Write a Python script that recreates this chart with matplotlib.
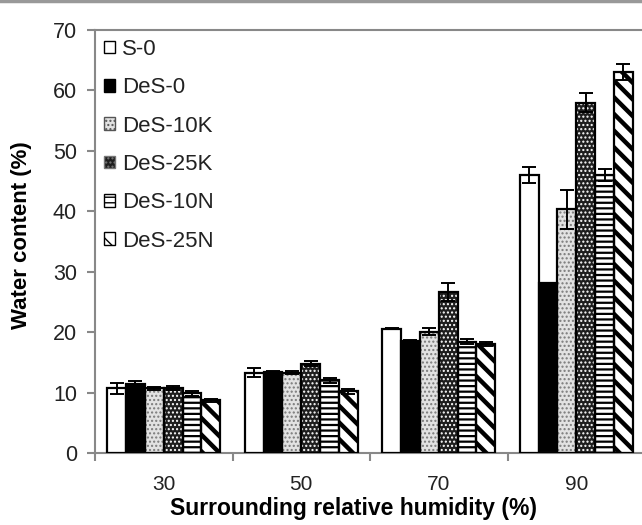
import matplotlib
matplotlib.use("Agg")
import matplotlib.pyplot as plt
from matplotlib.lines import Line2D
import numpy as np

categories = ["30", "50", "70", "90"]
series = ["S-0", "DeS-0", "DeS-10K", "DeS-25K", "DeS-10N", "DeS-25N"]
s0 = [10.7, 13.3, 20.6, 46.0]
des0 = [11.5, 13.4, 18.6, 28.1]
des10k = [10.7, 13.3, 20.1, 40.3]
des25k = [10.8, 14.8, 26.7, 58.0]
des10n = [9.9, 12.0, 18.4, 46.0]
des25n = [8.7, 10.2, 18.0, 63.1]
err_s0 = [0.9, 0.7, 0.1, 1.4]
err_des0 = [0.4, 0.2, 0.1, 0.0]
err_des10k = [0.2, 0.2, 0.6, 3.2]
err_des25k = [0.3, 0.4, 1.5, 1.5]
err_des10n = [0.4, 0.4, 0.4, 1.0]
err_des25n = [0.3, 0.4, 0.3, 1.3]

values = [s0, des0, des10k, des25k, des10n, des25n]
errors = [err_s0, err_des0, err_des10k, err_des25k, err_des10n, err_des25n]

# (facecolor, hatch, hatch color, hatch linewidth)
styles = [
    ("white", None, "black", 1.0),
    ("black", None, "black", 1.0),
    ("#e2e2e2", "....", "#7a7a7a", 1.0),
    ("#1e1e1e", "....", "white", 1.0),
    ("white", "---", "black", 1.6),
    ("white", "\\\\", "black", 3.2),
]
legend_edge = ["black", "black", "#555555", "#777777", "black", "black"]

plt.rcParams["font.family"] = ["Liberation Sans", "DejaVu Sans"]

fig = plt.figure(figsize=(6.42, 5.25), dpi=100)
ax = fig.add_axes([95 / 642, (525 - 453) / 525, 550 / 642, 423 / 525])

x = np.arange(len(categories))
n = len(series)
bw = 0.137
spine_col = "#888888"
txt_col = "#222222"

for i, (name, vals, errs, st) in enumerate(zip(series, values, errors, styles)):
    fc, hatch, hc, hlw = st
    pos = x + (i - (n - 1) / 2) * bw
    with plt.rc_context({"hatch.linewidth": hlw, "hatch.color": hc}):
        bars = ax.bar(pos, vals, bw, color=fc, edgecolor=hc, linewidth=0,
                      hatch=hatch, zorder=2)
        for b in bars:
            if hasattr(b, "set_hatch_linewidth"):
                b.set_hatch_linewidth(hlw)
    ax.bar(pos, vals, bw, facecolor="none", edgecolor="black", linewidth=1.6,
           zorder=3)
    ax.errorbar(pos, vals, yerr=errs, fmt="none", ecolor="black",
                elinewidth=1.4, capsize=5, capthick=1.4, zorder=4)

ax.set_xlim(-0.5, 3.5)
ax.set_ylim(0, 70)
ax.set_yticks(np.arange(0, 71, 10))
ax.set_xticks(x)
ax.set_xticklabels(categories)
ax.set_xticks(np.arange(-0.5, 3.6, 1.0), minor=True)
ax.tick_params(axis="x", which="major", length=0, labelsize=15, pad=16,
               labelcolor=txt_col)
ax.tick_params(axis="x", which="minor", length=6, width=1.5, color=spine_col,
               direction="out")
ax.tick_params(axis="y", length=6, width=1.5, color=spine_col, labelsize=15.5,
               pad=7, labelcolor=txt_col)
for sp in ax.spines.values():
    sp.set_color(spine_col)
    sp.set_linewidth(1.5)

ax.set_ylabel("Water content (%)", fontsize=16, fontweight="bold", labelpad=15)
ax.yaxis.label.set_y(0.515)
ax.set_xlabel("Surrounding relative humidity (%)", fontsize=16.5,
              fontweight="bold", labelpad=2)
ax.xaxis.label.set_x((354 - 95) / 550)

handles = []
for st, ec in zip(styles, legend_edge):
    fc, hatch, hc, hlw = st
    handles.append(plt.Rectangle((0, 0), 1, 1, facecolor=fc, edgecolor=ec,
                                 hatch=hatch, linewidth=1.0))
leg = ax.legend(handles, series, loc="upper left", frameon=False,
                fontsize=16, handlelength=0.5, handleheight=0.5,
                handletextpad=0.3, labelspacing=0.78, borderaxespad=0.0,
                bbox_to_anchor=(0.0, 1.0))
for t in leg.get_texts():
    t.set_color(txt_col)

fig.add_artist(Line2D([0, 1], [0.998, 0.998], transform=fig.transFigure,
                      color="#999999", linewidth=2.5))

fig.savefig("out.png", dpi=100)
